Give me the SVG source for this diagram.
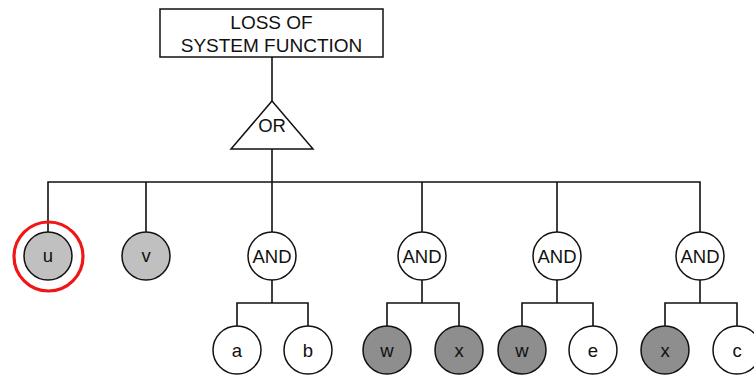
<svg xmlns="http://www.w3.org/2000/svg" width="754" height="376" viewBox="0 0 754 376">
  <style>
    .ln { stroke: #111; stroke-width: 1.6; fill: none; }
    .shape { stroke: #111; stroke-width: 1.5; }
    .lt { fill: #c0c0c0; }
    .dk { fill: #8e8e8e; }
    .wt { fill: #fff; }
    text { font-family: "Liberation Sans", Arial, sans-serif; fill: #111; text-anchor: middle; }
    .lbl { font-size: 18.5px; }
    .gate { font-size: 18.5px; }
    .top { font-size: 19px; }
  </style>
  <rect width="754" height="376" fill="#fff"/>

  <!-- connectors -->
  <g id="connectors">
    <path class="ln" d="M272 57 V101"/>
    <path class="ln" d="M272 149 V182"/>
    <path class="ln" d="M48 232 V182 H700 V232"/>
    <path class="ln" d="M146 182 V232"/>
    <path class="ln" d="M272 182 V232"/>
    <path class="ln" d="M422 182 V232"/>
    <path class="ln" d="M557 182 V232"/>
    <path class="ln" d="M272 280 V303 M237 326 V303 H308 V326"/>
    <path class="ln" d="M422 280 V303 M387 326 V303 H459 V326"/>
    <path class="ln" d="M557 280 V303 M522 326 V303 H593 V326"/>
    <path class="ln" d="M700 280 V303 M665 326 V303 H737 V326"/>
  </g>

  <!-- top event -->
  <g id="top-event">
    <rect class="shape wt" x="160" y="9" width="223" height="48"/>
    <text class="top" x="271.5" y="29">LOSS OF</text>
    <text class="top" x="271.5" y="52">SYSTEM FUNCTION</text>
  </g>

  <!-- OR gate -->
  <g id="or-gate">
    <polygon class="shape wt" points="272,101 313,149 231,149"/>
    <text class="gate" x="272" y="132">OR</text>
  </g>

  <!-- basic events directly under OR -->
  <g id="event-u">
    <circle cx="48.5" cy="256.5" r="34.5" fill="none" stroke="#f01616" stroke-width="3.2"/>
    <circle class="shape lt" cx="48" cy="256" r="24"/>
    <text class="lbl" x="48" y="262">u</text>
  </g>
  <g id="event-v">
    <circle class="shape lt" cx="146" cy="256" r="24"/>
    <text class="lbl" x="146" y="262">v</text>
  </g>

  <!-- AND gates -->
  <g id="and-1">
    <circle class="shape wt" cx="272" cy="256" r="24"/>
    <text class="gate" x="272" y="263">AND</text>
  </g>
  <g id="and-2">
    <circle class="shape wt" cx="422" cy="256" r="24"/>
    <text class="gate" x="422" y="263">AND</text>
  </g>
  <g id="and-3">
    <circle class="shape wt" cx="557" cy="256" r="24"/>
    <text class="gate" x="557" y="263">AND</text>
  </g>
  <g id="and-4">
    <circle class="shape wt" cx="700" cy="256" r="24"/>
    <text class="gate" x="700" y="263">AND</text>
  </g>

  <!-- leaf events -->
  <g id="event-a">
    <circle class="shape wt" cx="237" cy="350" r="24"/>
    <text class="lbl" x="237" y="357">a</text>
  </g>
  <g id="event-b">
    <circle class="shape wt" cx="308" cy="350" r="24"/>
    <text class="lbl" x="308" y="357">b</text>
  </g>
  <g id="event-w1">
    <circle class="shape dk" cx="387" cy="350" r="24"/>
    <text class="lbl" x="387" y="357">w</text>
  </g>
  <g id="event-x1">
    <circle class="shape dk" cx="459" cy="350" r="24"/>
    <text class="lbl" x="459" y="357">x</text>
  </g>
  <g id="event-w2">
    <circle class="shape dk" cx="522" cy="350" r="24"/>
    <text class="lbl" x="522" y="357">w</text>
  </g>
  <g id="event-e">
    <circle class="shape wt" cx="593" cy="350" r="24"/>
    <text class="lbl" x="593" y="357">e</text>
  </g>
  <g id="event-x2">
    <circle class="shape dk" cx="665" cy="350" r="24"/>
    <text class="lbl" x="665" y="357">x</text>
  </g>
  <g id="event-c">
    <circle class="shape wt" cx="737" cy="350" r="24"/>
    <text class="lbl" x="737" y="357">c</text>
  </g>
</svg>
